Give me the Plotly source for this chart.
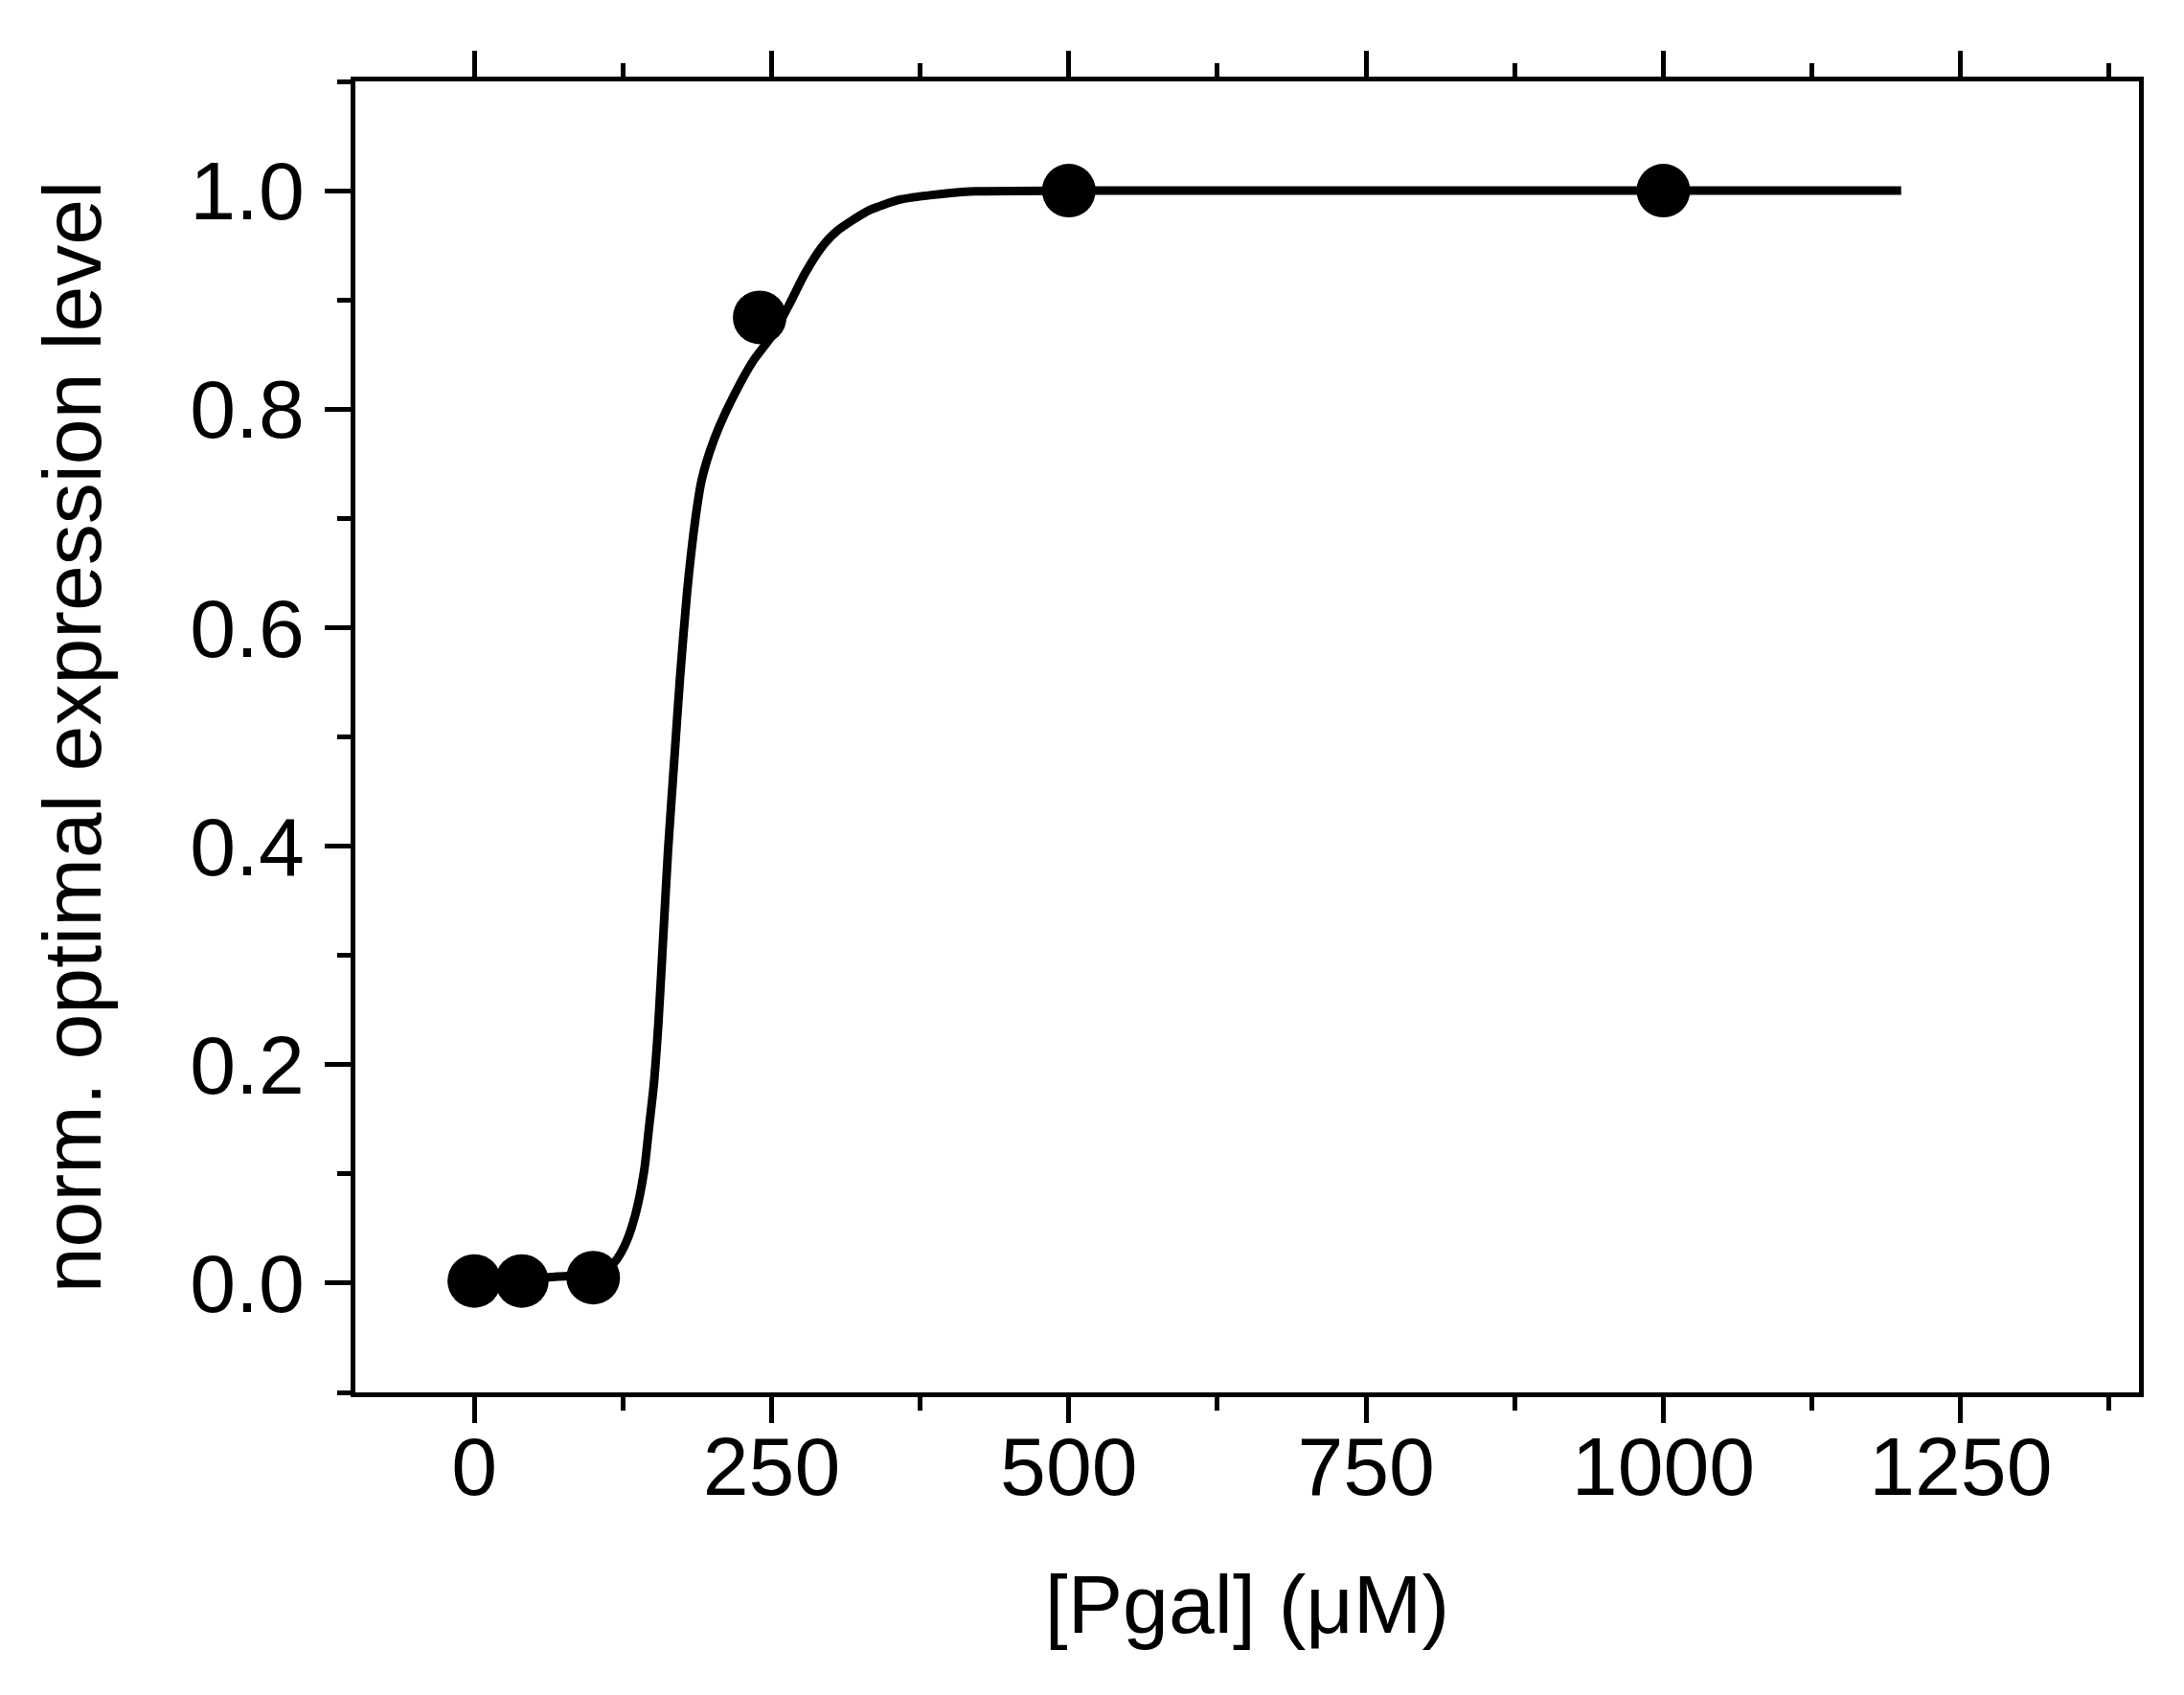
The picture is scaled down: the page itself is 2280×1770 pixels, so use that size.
import plotly.graph_objects as go

# measured data points
pgal_pts = [0, 40, 100, 240, 500, 1000]
expr_pts = [0.002, 0.002, 0.005, 0.884, 1.0, 1.0]

# fitted curve
fit_x = [0, 40, 70, 100, 112, 120, 128, 136, 143, 147, 151, 155, 159, 163, 168,
         173, 179, 186, 191, 198, 206, 219, 235, 251, 265, 278, 292, 305, 332,
         359, 413, 500, 700, 1000, 1200]
fit_y = [0.002, 0.003, 0.006, 0.008, 0.013, 0.022, 0.038, 0.065, 0.104, 0.143,
         0.182, 0.241, 0.319, 0.397, 0.476, 0.554, 0.633, 0.700, 0.734, 0.761,
         0.784, 0.814, 0.845, 0.868, 0.896, 0.924, 0.948, 0.963, 0.982, 0.992,
         0.999, 1.0, 1.0, 1.0, 1.0]

x_ticks = [0, 250, 500, 750, 1000, 1250]
x_minor = [125, 375, 625, 875, 1125, 1375]
y_ticks = [0.0, 0.2, 0.4, 0.6, 0.8, 1.0]
y_tick_labels = ["0.0", "0.2", "0.4", "0.6", "0.8", "1.0"]
y_minor = [-0.1, 0.1, 0.3, 0.5, 0.7, 0.9, 1.1]

FONT = "Liberation Sans, Arial, sans-serif"

fig = go.Figure()
fig.add_trace(go.Scatter(x=fit_x, y=fit_y, mode="lines",
                         line=dict(color="black", width=9, shape="spline", smoothing=0.6),
                         showlegend=False))
fig.add_trace(go.Scatter(x=pgal_pts, y=expr_pts, mode="markers",
                         marker=dict(color="black", size=56), showlegend=False))

fig.update_layout(
    width=2280, height=1770,
    margin=dict(l=363, r=55, t=77, b=324),
    paper_bgcolor="white", plot_bgcolor="white",
    font=dict(family=FONT, size=86, color="black"),
    xaxis=dict(
        range=[-100, 1400], tickvals=x_ticks, ticktext=[str(v) for v in x_ticks],
        showline=True, linecolor="black", linewidth=5, mirror="ticks",
        ticks="outside", ticklen=27, tickwidth=5, tickcolor="black",
        minor=dict(tickvals=x_minor, ticks="outside",
                   ticklen=14, tickwidth=5, tickcolor="black"),
        showgrid=False, zeroline=False, ticklabelstandoff=-28,
        title=dict(text="[Pgal] (\u03bcM)", font=dict(size=86), standoff=68),
        tickfont=dict(size=86),
    ),
    yaxis=dict(
        range=[-0.1, 1.1], tickvals=y_ticks, ticktext=y_tick_labels,
        showline=True, linecolor="black", linewidth=5, mirror=True,
        ticks="outside", ticklen=27, tickwidth=5, tickcolor="black",
        minor=dict(tickvals=y_minor, ticks="outside",
                   ticklen=14, tickwidth=5, tickcolor="black"),
        showgrid=False, zeroline=False, ticklabelstandoff=4,
        title=dict(text="norm. optimal expression level", font=dict(size=86), standoff=66),
        tickfont=dict(size=86),
    ),
)

fig.write_html("out.html")
